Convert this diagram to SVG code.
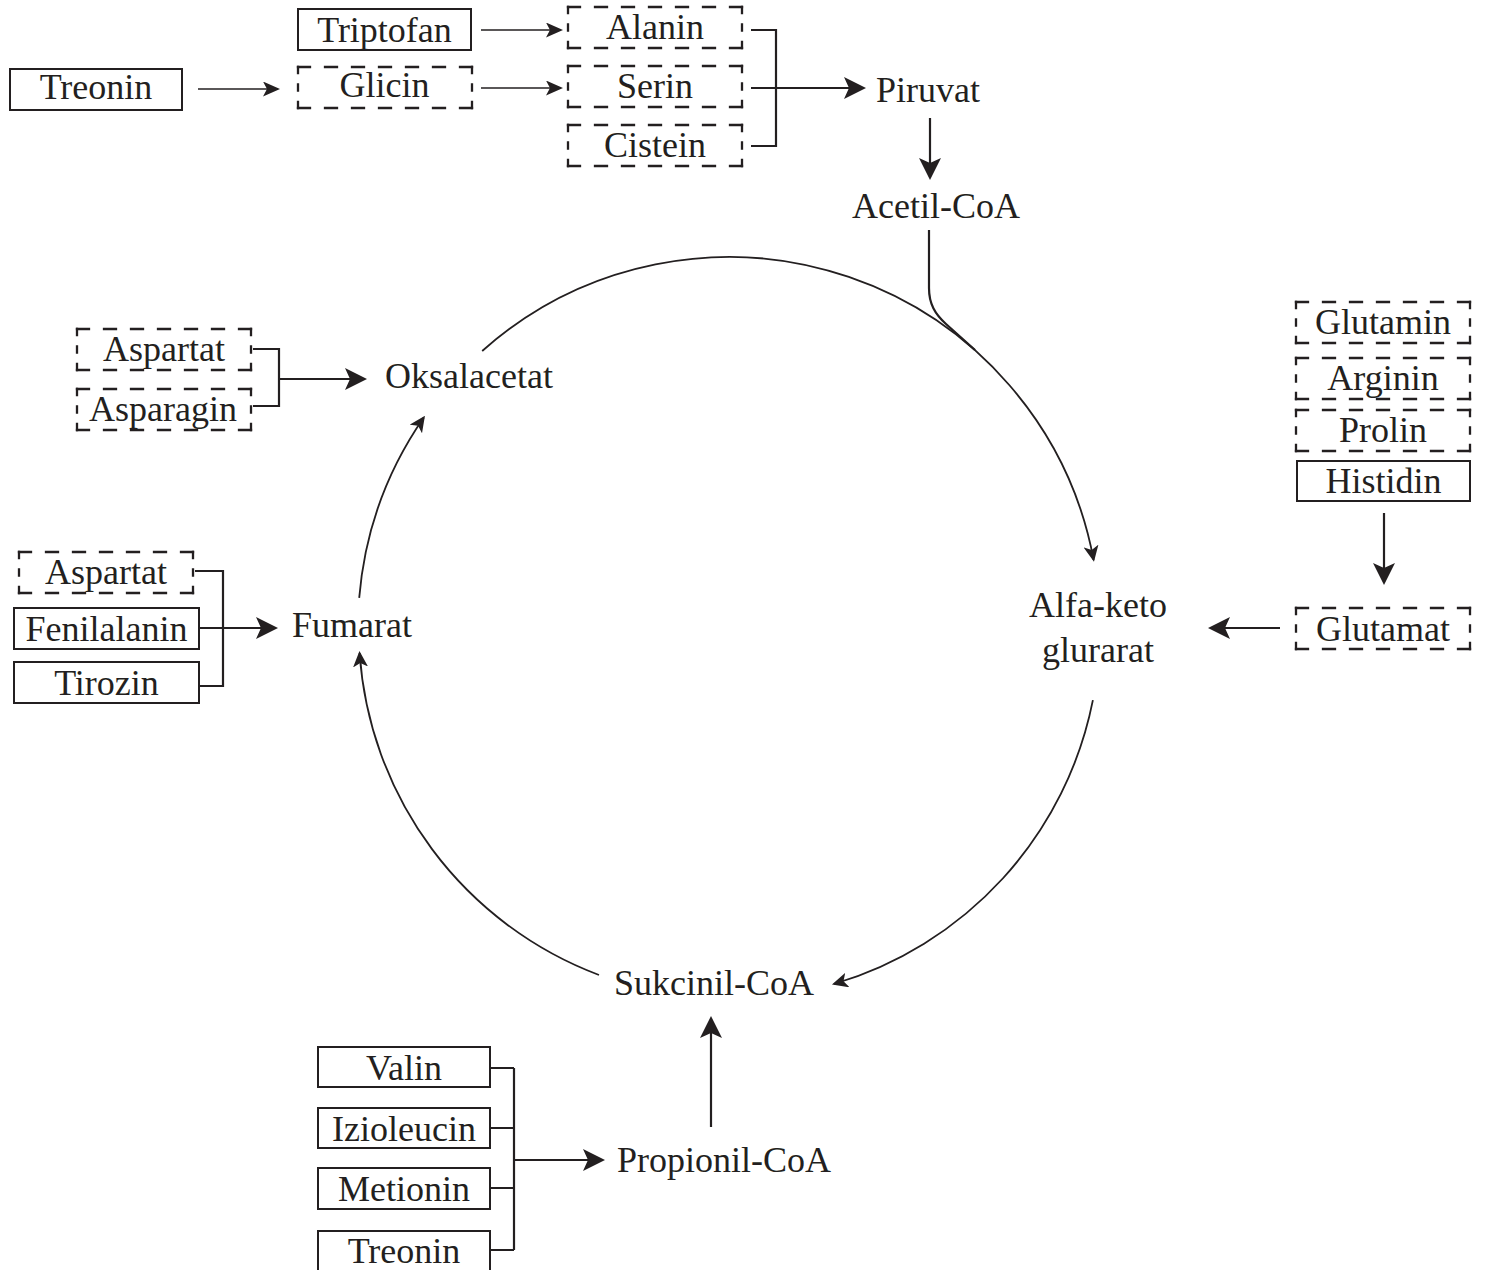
<svg xmlns="http://www.w3.org/2000/svg" width="1486" height="1270" viewBox="0 0 1486 1270">
  <style>
    text { font-family: "Liberation Serif", "Times New Roman", serif; font-size: 36px; fill: #231f20; text-anchor: middle; }
    .box { fill: none; stroke: #231f20; stroke-width: 2; }
    .dh { fill: none; stroke: #231f20; stroke-width: 2.3; stroke-linecap: square; stroke-dasharray: 12 15; }
    .dv { fill: none; stroke: #231f20; stroke-width: 2.3; stroke-linecap: square; stroke-dasharray: 6 11.5; }
    .thin { fill: none; stroke: #231f20; stroke-width: 1.5; marker-end: url(#head-sm); }
    .main { fill: none; stroke: #231f20; stroke-width: 2.2; }
    .arrow { marker-end: url(#head-lg); }
    .arc { fill: none; stroke: #231f20; stroke-width: 1.8; marker-end: url(#head-arc); }
    .feed { fill: none; stroke: #231f20; stroke-width: 2.2; }
  </style>
  <defs>
    <marker id="head-lg" viewBox="0 0 22 22" refX="19" refY="11" markerWidth="22" markerHeight="22" markerUnits="userSpaceOnUse" orient="auto">
      <path d="M22,11 L0,0 L5,11 L0,22 Z" fill="#231f20"/>
    </marker>
    <marker id="head-sm" viewBox="0 0 17 15" refX="15" refY="7.5" markerWidth="17" markerHeight="15" markerUnits="userSpaceOnUse" orient="auto">
      <path d="M17,7.5 L0,0 L4,7.5 L0,15 Z" fill="#231f20"/>
    </marker>
    <marker id="head-arc" viewBox="0 0 16 15" refX="14" refY="7.5" markerWidth="16" markerHeight="15" markerUnits="userSpaceOnUse" orient="auto">
      <path d="M16,7.5 L0,0 L4,7.5 L0,15 Z" fill="#231f20"/>
    </marker>
    <!-- dashed outline, 174 x 41, with a dash on every corner -->
    <g id="dbox">
      <path class="dh" d="M0,0H174M174,41H0"/>
      <path class="dv" d="M174,0V41M0,41V0"/>
    </g>
  </defs>

  <!-- connectors -->
  <g id="connectors">
    <!-- top feeders -->
    <path class="thin" d="M198,89H278"/>
    <path class="thin" d="M481,30H561"/>
    <path class="thin" d="M481,88H561"/>
    <path class="main" d="M751,30H776V146H751"/>
    <path class="main arrow" d="M751,88H863"/>
    <path class="main arrow" d="M930,118V177"/>
    <!-- acetyl-CoA joins the cycle -->
    <path class="feed" d="M929,230V288C929,304 935,314 946,324L975,350"/>
    <!-- cycle arcs, centre (729,628), r 371 -->
    <path class="arc" d="M482.2,351A371,371 0 0 1 1093.6,559.8"/>
    <path class="arc" d="M1092.9,700.2A371,371 0 0 1 833.9,984"/>
    <path class="arc" d="M599,975A371,371 0 0 1 359.6,653"/>
    <path class="arc" d="M359.2,597.9A371,371 0 0 1 423.8,417.5"/>
    <!-- left feeders -->
    <path class="main" d="M253,349H279V406H253"/>
    <path class="main arrow" d="M279,379H364"/>
    <path class="main" d="M195,571H223V686H199"/>
    <path class="main arrow" d="M199,628H275"/>
    <!-- right feeders -->
    <path class="main arrow" d="M1384,513V582"/>
    <path class="main arrow" d="M1280,628H1211"/>
    <!-- bottom feeders -->
    <path class="main arrow" d="M711,1127V1019"/>
    <path class="main" d="M490,1068H514M490,1128H514M490,1188H514M490,1250H514M514,1068V1250"/>
    <path class="main arrow" d="M514,1160H602"/>
  </g>

  <!-- top row -->
  <g id="triptofan"><rect class="box" x="298" y="9" width="173" height="41"/><text x="384.5" y="42">Triptofan</text></g>
  <g id="treonin-top"><rect class="box" x="10" y="69" width="172" height="41"/><text x="96" y="99">Treonin</text></g>
  <g id="glicin"><use href="#dbox" x="298" y="67"/><text x="384.5" y="97">Glicin</text></g>
  <g id="alanin"><use href="#dbox" x="568" y="7"/><text x="655" y="39">Alanin</text></g>
  <g id="serin"><use href="#dbox" x="568" y="66"/><text x="655" y="98">Serin</text></g>
  <g id="cistein"><use href="#dbox" x="568" y="125"/><text x="655" y="157">Cistein</text></g>
  <g id="piruvat"><text x="928" y="102">Piruvat</text></g>
  <g id="acetil-coa"><text x="936" y="218">Acetil-CoA</text></g>

  <!-- cycle members -->
  <g id="oksalacetat"><text x="469" y="388">Oksalacetat</text></g>
  <g id="fumarat"><text x="352" y="637">Fumarat</text></g>
  <g id="alfa-keto"><text x="1098" y="617">Alfa-keto</text><text x="1098" y="662">glurarat</text></g>
  <g id="sukcinil-coa"><text x="714" y="995">Sukcinil-CoA</text></g>
  <g id="propionil-coa"><text x="724" y="1172">Propionil-CoA</text></g>

  <!-- left inputs -->
  <g id="aspartat-1"><use href="#dbox" x="77" y="329"/><text x="164" y="361">Aspartat</text></g>
  <g id="asparagin"><use href="#dbox" x="77" y="389"/><text x="163" y="421">Asparagin</text></g>
  <g id="aspartat-2"><use href="#dbox" x="19" y="552"/><text x="106" y="584">Aspartat</text></g>
  <g id="fenilalanin"><rect class="box" x="14" y="608" width="185" height="41"/><text x="106.5" y="641">Fenilalanin</text></g>
  <g id="tirozin"><rect class="box" x="14" y="662" width="185" height="41"/><text x="106.5" y="695">Tirozin</text></g>

  <!-- right inputs -->
  <g id="glutamin"><use href="#dbox" x="1296" y="302"/><text x="1383" y="334">Glutamin</text></g>
  <g id="arginin"><use href="#dbox" x="1296" y="358"/><text x="1383" y="390">Arginin</text></g>
  <g id="prolin"><use href="#dbox" x="1296" y="410"/><text x="1383" y="442">Prolin</text></g>
  <g id="histidin"><rect class="box" x="1297" y="461" width="173" height="40"/><text x="1383.5" y="493">Histidin</text></g>
  <g id="glutamat"><use href="#dbox" x="1296" y="608"/><text x="1383" y="641">Glutamat</text></g>

  <!-- bottom inputs -->
  <g id="valin"><rect class="box" x="318" y="1047" width="172" height="40"/><text x="404" y="1080">Valin</text></g>
  <g id="izioleucin"><rect class="box" x="318" y="1108" width="172" height="40"/><text x="404" y="1141">Izioleucin</text></g>
  <g id="metionin"><rect class="box" x="318" y="1168" width="172" height="41"/><text x="404" y="1201">Metionin</text></g>
  <g id="treonin-bottom"><rect class="box" x="318" y="1231" width="172" height="42"/><text x="404" y="1263">Treonin</text></g>
</svg>
